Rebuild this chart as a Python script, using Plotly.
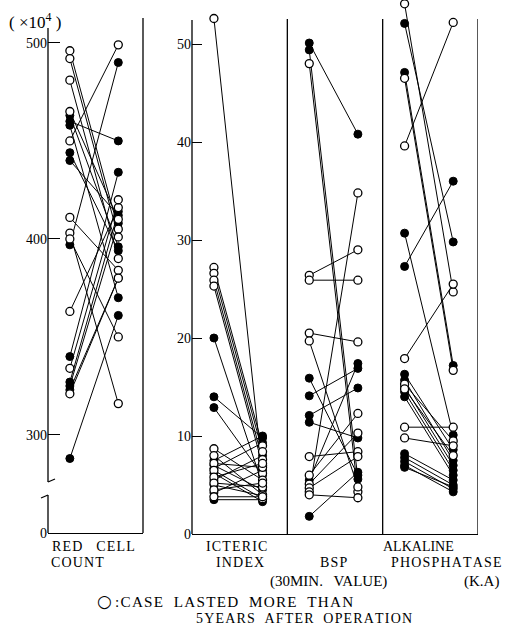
import plotly.graph_objects as go

W, H = 510, 632

# ---------------- data ----------------
# Red cell count (x10^4): before / after operation
rbc_open_before = [496, 492, 481, 465, 450, 411, 403, 400, 363, 334, 321]
rbc_open_after = [405, 401, 390, 410, 499, 384, 316, 350, 416, 420, 380]
rbc_fill_before = [463, 460, 458, 444, 440, 397, 340, 327, 325, 323, 288]
rbc_fill_after = [396, 450, 370, 394, 412, 490, 434, 414, 408, 380, 361]

# Icteric index
ict_open_before = [52.6, 27.2, 26.6, 25.9, 25.3, 8.7, 8.0, 7.2, 6.5, 5.8, 5.2, 4.5, 3.8]
ict_open_after = [6.2, 9.0, 8.4, 7.6, 7.0, 5.5, 4.0, 6.8, 3.6, 7.2, 4.8, 5.2, 3.8]
ict_fill_before = [20.0, 14.0, 12.9, 7.5, 7.0, 6.7, 6.2, 5.5, 5.0, 4.2, 3.5]
ict_fill_after = [5.0, 9.8, 6.0, 10.0, 4.5, 9.3, 3.3, 8.0, 3.9, 6.5, 3.5]

# BSP (30 min value)
bsp_open_before = [48.0, 26.4, 25.9, 20.5, 19.7, 7.9, 6.0, 5.1, 4.7, 4.3, 4.0]
bsp_open_after = [4.3, 29.0, 25.9, 19.6, 4.8, 8.4, 12.3, 10.3, 7.9, 34.8, 3.7]
bsp_fill_before = [50.1, 49.4, 15.9, 14.1, 12.1, 11.4, 5.5, 1.8]
bsp_fill_after = [40.8, 5.6, 6.0, 16.9, 14.9, 9.8, 17.4, 6.3]

# Alkaline phosphatase (K.A)
alp_open_before = [54.1, 46.5, 39.6, 17.9, 15.3, 14.8, 10.9, 9.8]
alp_open_after = [24.7, 16.7, 52.2, 25.5, 9.5, 8.0, 10.9, 9.0]
alp_fill_before = [52.1, 47.1, 30.7, 27.3, 16.3, 15.7, 15.0, 14.5, 14.0, 8.2, 7.8, 7.4, 7.0, 6.8]
alp_fill_after = [29.8, 17.2, 10.1, 36.0, 8.6, 7.5, 7.0, 6.5, 6.0, 5.5, 5.0, 4.6, 4.3, 4.8]

rbc_ticks = [250, 300, 400, 500]
rbc_ticktext = ["0", "300", "400", "500"]
liver_ticks = [0, 10, 20, 30, 40, 50]

# ---------------- helpers ----------------
def PX(x):
    return x / W

def PY(y):
    return 1 - y / H

EM = "\u2003"
GAP = "\u2002\u2009"  # narrower word gap for the legend

def spaced(t):
    """Slight letter spacing with hair spaces (not around word gaps)."""
    gaps = set("\u2002\u2003\u2009 ")
    out = []
    for i, ch in enumerate(t):
        out.append(ch)
        if i < len(t) - 1 and ch not in gaps and t[i + 1] not in gaps:
            out.append("\u200a")
    return "".join(out)

BEFORE, AFTER = 0.23, 0.74
FONT = "Liberation Serif"

fig = go.Figure()

def add_panel(offset, ob, oa, fb, fa, xa, ya):
    xs, ys = [], []
    for b, a in list(zip(ob, oa)) + list(zip(fb, fa)):
        xs += [offset + BEFORE, offset + AFTER, None]
        ys += [b, a, None]
    fig.add_trace(go.Scatter(x=xs, y=ys, mode="lines", xaxis=xa, yaxis=ya,
                             line=dict(color="black", width=1), cliponaxis=False,
                             hoverinfo="skip", showlegend=False))
    fig.add_trace(go.Scatter(x=[offset + BEFORE] * len(fb) + [offset + AFTER] * len(fa),
                             y=fb + fa, mode="markers", xaxis=xa, yaxis=ya,
                             marker=dict(size=8, color="black", line=dict(color="black", width=1)),
                             cliponaxis=False, showlegend=False))
    fig.add_trace(go.Scatter(x=[offset + BEFORE] * len(ob) + [offset + AFTER] * len(oa),
                             y=ob + oa, mode="markers", xaxis=xa, yaxis=ya,
                             marker=dict(size=8, color="white", line=dict(color="black", width=1.3)),
                             cliponaxis=False, showlegend=False))

add_panel(0, rbc_open_before, rbc_open_after, rbc_fill_before, rbc_fill_after, "x", "y")
add_panel(0, ict_open_before, ict_open_after, ict_fill_before, ict_fill_after, "x2", "y2")
add_panel(1, bsp_open_before, bsp_open_after, bsp_fill_before, bsp_fill_after, "x2", "y2")
add_panel(2, alp_open_before, alp_open_after, alp_fill_before, alp_fill_after, "x2", "y2")

tickfont = dict(family=FONT, size=14, color="black")
PXU = 9.8  # pixels per unit on the liver-function axis

fig.update_layout(
    width=W, height=H, margin=dict(l=0, r=0, t=0, b=0),
    paper_bgcolor="white", plot_bgcolor="white",
    xaxis=dict(domain=[PX(48), PX(143)], range=[0, 1], showline=True, linecolor="black",
               linewidth=1.3, showticklabels=False, ticks="", showgrid=False, zeroline=False,
               anchor="y"),
    yaxis=dict(domain=[PY(533), PY(28)], range=[250, 507.6], tickvals=rbc_ticks,
               ticktext=rbc_ticktext, ticks="inside", ticklen=12, tickcolor="black",
               tickwidth=1.3, showline=False, showgrid=False, zeroline=False,
               tickfont=tickfont, anchor="x", automargin=False),
    xaxis2=dict(domain=[PX(192), PX(478)], range=[0, 3], showline=True, linecolor="black",
                linewidth=1.3, showticklabels=False, ticks="", showgrid=False, zeroline=False,
                anchor="y2"),
    yaxis2=dict(domain=[PY(534), 1], range=[0, 534 / PXU], tickvals=liver_ticks,
                ticks="inside", ticklen=10, tickcolor="black", tickwidth=1.3,
                showline=False, showgrid=False,
                zeroline=False, tickfont=tickfont, anchor="x2", automargin=False),
)

shapes = []
def seg(x0, y0, x1, y1, w=1.3):
    shapes.append(dict(type="line", xref="paper", yref="paper", x0=PX(x0), y0=PY(y0),
                       x1=PX(x1), y1=PY(y1), line=dict(color="black", width=w)))

# left panel: broken axis and right border
seg(48, 28, 48, 482)
seg(48, 482, 55, 479)
seg(48, 495, 48, 533)
seg(41, 498, 48, 495)
seg(143, 18, 143, 533)
# right panel: left axis line, dividers and border
seg(192, 20, 192, 534)
for xv in [1, 2, 3]:
    shapes.append(dict(type="line", xref="x2", yref="paper", x0=xv, x1=xv,
                       y0=PY(534), y1=PY(19), line=dict(color="black", width=1.3)))
fig.update_layout(shapes=shapes)

# (text, left x, centre y, font size, letter-spaced)
ann = [
    ("RED" + EM + "CELL", 50, 546, 14, True),
    ("COUNT", 49, 562, 14, True),
    ("ICTERIC", 204, 546, 14, True),
    ("INDEX", 214, 562, 14, True),
    ("BSP", 318, 562, 14, True),
    ("(30MIN." + GAP + "VALUE)", 268, 581, 15, False),
    ("ALKALINE", 381, 546, 14, False),
    ("PHOSPHATASE", 389, 562, 14, True),
    ("(K.A)", 462, 581, 15, False),
    (":CASE" + GAP + "LASTED" + GAP + "MORE" + GAP + "THAN", 113, 601, 15.2, True),
    ("5YEARS" + GAP + "AFTER" + GAP + "OPERATION", 194, 618, 14, True),
]
for t, x, y, sz, sp in ann:
    fig.add_annotation(text=spaced(t) if sp else t, x=PX(x), y=PY(y), xref="paper",
                       yref="paper", showarrow=False,
                       font=dict(family=FONT, size=sz, color="black"),
                       xanchor="left", yanchor="middle")
fig.add_annotation(text="(\u00a0×10<sup>4</sup>\u00a0)", x=PX(7), y=PY(21), xref="paper",
                   yref="paper", showarrow=False, font=dict(family=FONT, size=17, color="black"),
                   xanchor="left", yanchor="middle")
fig.add_annotation(text="○", x=PX(104), y=PY(601), xref="paper", yref="paper",
                   showarrow=False, font=dict(family="DejaVu Sans", size=17, color="black"),
                   xanchor="center", yanchor="middle")

fig.write_html("out.html", config={"displayModeBar": False},
               post_script="document.body.style.margin='0';")
